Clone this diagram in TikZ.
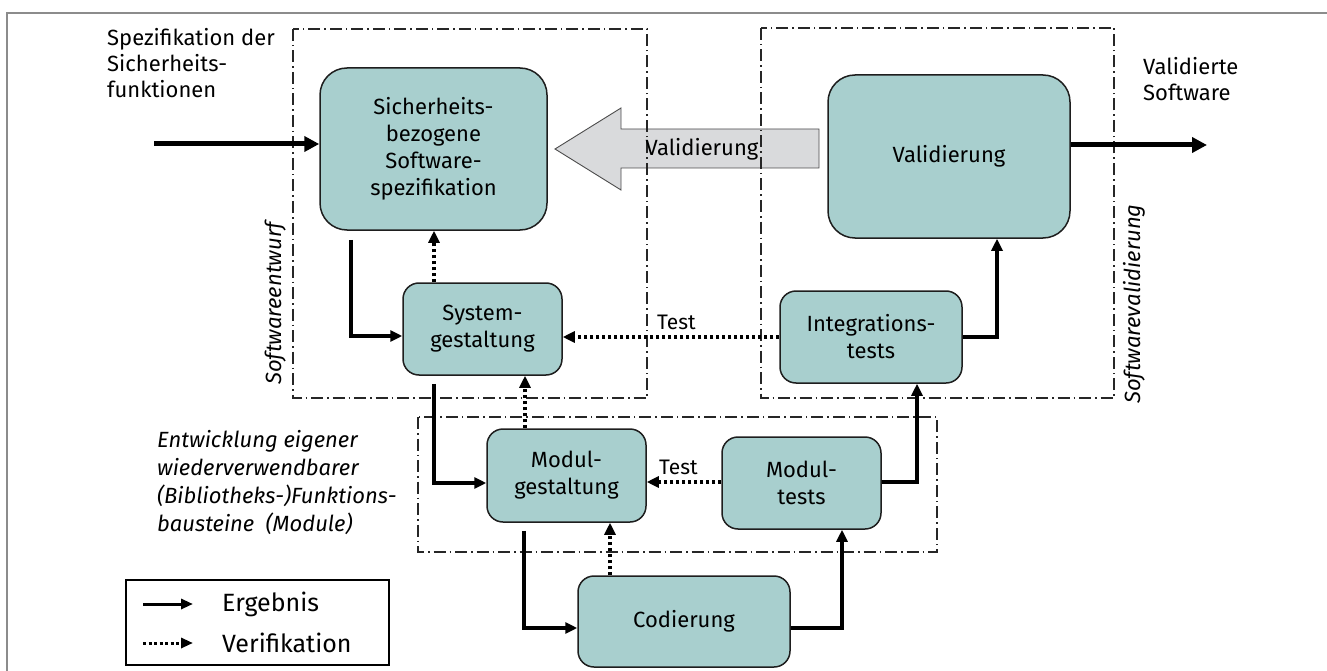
\documentclass[tikz,border=0pt]{standalone}
\usepackage{fontspec}
\setmainfont{Fira Sans}
\usetikzlibrary{arrows.meta}

\definecolor{boxfill}{HTML}{A8CFCE}
\definecolor{boxedge}{HTML}{1E1E1E}
\definecolor{bigarrow}{HTML}{D9DADC}
\definecolor{framegray}{HTML}{8C8C8C}

\begin{document}
\begin{tikzpicture}[x=1pt,y=-1pt,
  stage/.style={draw=boxedge, line width=1.5pt, fill=boxfill, rounded corners=16pt,
    inner sep=0pt, align=center, font=\fontsize{22}{27}\selectfont},
  bigstage/.style={stage, rounded corners=27pt},
  phase/.style={draw=black!85, line width=1.1pt, dash pattern=on 12pt off 4pt on 1.5pt off 4pt},
  res/.style={line width=3.5pt, -{Triangle[length=12pt,width=11pt]}},
  resmain/.style={line width=5pt, -{Triangle[length=15pt,width=15pt]}},
  ver/.style={line width=3.5pt, dash pattern=on 3.5pt off 2.5pt, -{Triangle[length=12pt,width=11pt]}},
  plain/.style={inner sep=0pt, align=left, font=\fontsize{22}{26}\selectfont},
  note/.style={inner sep=0pt, align=left, font=\itshape\fontsize{22}{28}\selectfont},
  side/.style={inner sep=0pt, rotate=90, anchor=west, font=\itshape\fontsize{22}{26}\selectfont},
  testlbl/.style={inner sep=0pt, anchor=west, font=\fontsize{21}{24}\selectfont},
  legtext/.style={inner sep=0pt, anchor=west, font=\fontsize{25}{28}\selectfont}
]
\useasboundingbox (0,0) rectangle (1327,671);

% outer frame (top and left edge)
\draw[framegray, line width=1.5pt] (1327,13) -- (7,13) -- (7,671);

% big validation arrow pointing back to the specification
\draw[fill=bigarrow, draw=black!70, line width=0.9pt]
  (819,129) -- (621,129) -- (621,108) -- (555,149) -- (621,190) -- (621,168) -- (819,168) -- cycle;

% phase frames
\draw[phase] (293,29) rectangle (647,398);
\draw[phase] (761,28) rectangle (1114,398);
\draw[phase] (418,417) rectangle (937,552);

\node[inner sep=0pt, font=\fontsize{22}{26}\selectfont] (vlabel) at (702,149) {Validierung};

% stages
\node[bigstage, minimum width=227pt, minimum height=162pt] (spec) at (433.5,149)
  {Sicherheits-\\bezogene\\Software-\\spezifikation};
\node[bigstage, minimum width=242pt, minimum height=163pt] (val) at (949,156.5) {Validierung};
\node[stage, minimum width=159pt, minimum height=92pt] (sys) at (482.5,329) {System-\\gestaltung};
\node[stage, minimum width=182pt, minimum height=92pt] (integ) at (871,337) {Integrations-\\tests};
\node[stage, minimum width=159pt, minimum height=93pt] (modg) at (566.5,475.5) {Modul-\\gestaltung};
\node[stage, minimum width=159pt, minimum height=92pt] (modt) at (801.5,483) {Modul-\\tests};
\node[stage, minimum width=212pt, minimum height=91pt] (cod) at (684,621.5) {Codierung};

% free ends of the input and output arrows
\coordinate (inL) at (154,144);
\coordinate (outR) at (1207,145);

% results
\draw[resmain] (inL) -- (inL -| spec.west);
\draw[resmain] (outR -| val.east) -- (outR);
\draw[res] ([xshift=-82.5pt,yshift=-9pt]spec.south) |- ([yshift=-7pt]sys.west);
\draw[res] ([xshift=-48.5pt,yshift=-8pt]sys.south) |- ([yshift=-7.5pt]modg.west);
\draw[res] ([xshift=-42.5pt,yshift=-8pt]modg.south) |- ([yshift=-6.5pt]cod.west);
\draw[res] ([yshift=-6.5pt]cod.east) -| ([xshift=40.5pt]modt.south);
\draw[res] ([yshift=1pt]modt.east) -| ([xshift=46pt]integ.south);
\draw[res] (integ.east) -| ([xshift=48pt]val.south);

% verifications
\draw[ver] ([xshift=-48.5pt]sys.north) -- ([xshift=-48.5pt]sys.north |- spec.south);
\draw[ver] ([xshift=-41.5pt]modg.north) -- ([xshift=-41.5pt]modg.north |- sys.south);
\draw[ver] ([xshift=-74pt]cod.north) -- ([xshift=-74pt]cod.north |- modg.south);
\draw[ver] (integ.west) -- (integ.west -| sys.east);
\draw[ver] ([yshift=1pt]modt.west) -- ([yshift=1pt]modt.west -| modg.east);

\node[testlbl] (test1) at (657,322) {Test};
\node[testlbl] (test2) at (659,467) {Test};

% free texts
\node[plain, anchor=north west] (insp) at (107,28) {Spezifikation der\\Sicherheits-\\funktionen};
\node[plain, anchor=north west] (outsw) at (1143,57) {Validierte\\Software};
\node[note, anchor=north west] (libs) at (157,430)
  {Entwicklung eigener\\wiederverwendbarer\\(Bibliotheks-)Funktions-\\bausteine\ \ (Module)};
\node[side] (sidea) at (276,385) {Softwareentwurf};
\node[side] (sideb) at (1134,404) {Softwarevalidierung};

% legend
\node[draw=black, line width=1.2pt, minimum width=263pt, minimum height=85pt, inner sep=0pt] (legend) at (257.5,622.5) {};
\coordinate (la1) at (143,604);
\coordinate (lb1) at (193,604);
\coordinate (la2) at (143,643);
\coordinate (lb2) at (193,643);
\draw[line width=3pt, -{Triangle[length=12pt,width=10pt]}] (la1) -- (lb1);
\draw[line width=3pt, dash pattern=on 3pt off 2.5pt, -{Triangle[length=12pt,width=10pt]}] (la2) -- (lb2);
\node[legtext] (lt1) at (222,604) {Ergebnis};
\node[legtext] (lt2) at (222,643) {Verifikation};
\end{tikzpicture}
\end{document}
